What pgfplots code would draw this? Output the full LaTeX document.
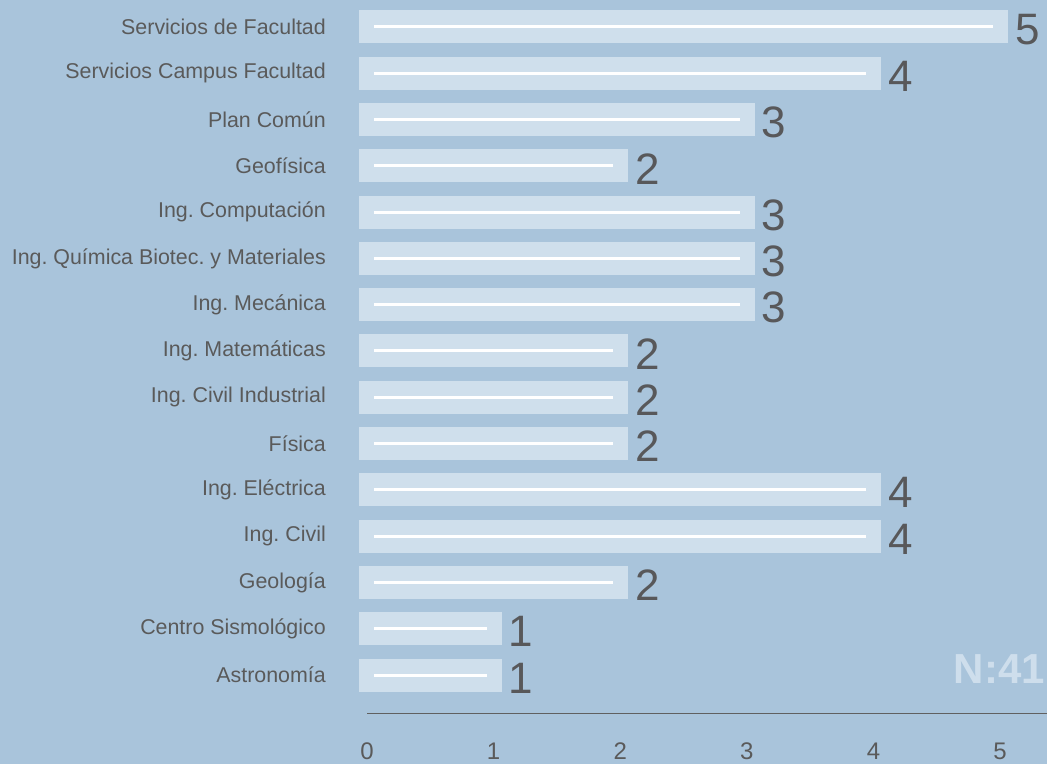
\documentclass[border=0pt]{standalone}
\usepackage{pgfplots}
\pgfplotsset{compat=1.18}
\usepackage{pgfplotstable}
\usepackage{fontspec}
\setmainfont{Liberation Sans}
\frenchspacing
\definecolor{bg}{RGB}{169,196,219}
\definecolor{barc}{RGB}{207,223,236}
\definecolor{txt}{RGB}{90,90,90}
\definecolor{valc}{RGB}{88,88,90}
\definecolor{axisc}{RGB}{96,96,96}
\definecolor{nlab}{RGB}{206,222,236}

% idx 0 = Astronomia (bottom) ... 14 = Servicios de Facultad (top)
\pgfplotstableread{
idx v
0 1
1 1
2 2
3 4
4 4
5 2
6 2
7 2
8 3
9 3
10 3
11 2
12 3
13 4
14 5
}\datatable

\begin{document}
\begin{tikzpicture}
\fill[bg] (0,0) rectangle (1047pt,764pt);
\useasboundingbox (0,0) rectangle (1047pt,764pt);
\begin{axis}[
  at={(367pt,51pt)}, anchor=south west,
  scale only axis, width=680pt, height=713pt,
  xmin=0, xmax=5.371, ymin=-0.82, ymax=14.58,
  axis x line*=bottom, axis y line*=left,
  x axis line style={-, draw=axisc, line width=1pt},
  y axis line style={draw=none},
  major tick length=0pt,
  xtick={0,...,5}, ytick={0,...,14},
  yticklabels={Astronomía, Centro Sismológico, Geología, Ing. Civil, Ing. Eléctrica,
    Física, Ing. Civil Industrial, Ing. Matemáticas, Ing. Mecánica,
    Ing. Química Biotec. y Materiales, Ing. Computación, Geofísica, Plan Común,
    Servicios Campus Facultad, Servicios de Facultad},
  ticklabel style={text=txt},
  xticklabel style={font=\fontsize{24}{24}\selectfont, inner sep=0pt, yshift=-30pt},
  yticklabel style={font=\fontsize{21.4}{21.4}\selectfont, inner sep=0pt, xshift=-41pt},
  /pgf/number format/assume math mode=true,
  clip=false,
]
\addplot[xbar, bar width=17pt, fill=barc, draw=barc, line width=16pt,
  point meta=x, nodes near coords,
  every node near coord/.append style={font=\fontsize{44}{44}\selectfont, text=valc,
    inner sep=0pt, anchor=west, xshift=15pt, yshift=-3pt, line width=0pt}]
  table[x=v, y=idx] {\datatable};
\addplot[draw=none, mark=none,
  error bars/.cd, x dir=both, x explicit, error mark=none,
  error bar style={draw=white, line width=3pt, line cap=butt}]
  table[x expr=\thisrow{v}/2, y=idx, x error expr=\thisrow{v}/2-0.055] {\datatable};
\end{axis}
\node[anchor=base east, inner sep=0pt, font=\bfseries\fontsize{42}{42}\selectfont, text=nlab]
  at (1045pt,81pt) {N:41};
\end{tikzpicture}
\end{document}
